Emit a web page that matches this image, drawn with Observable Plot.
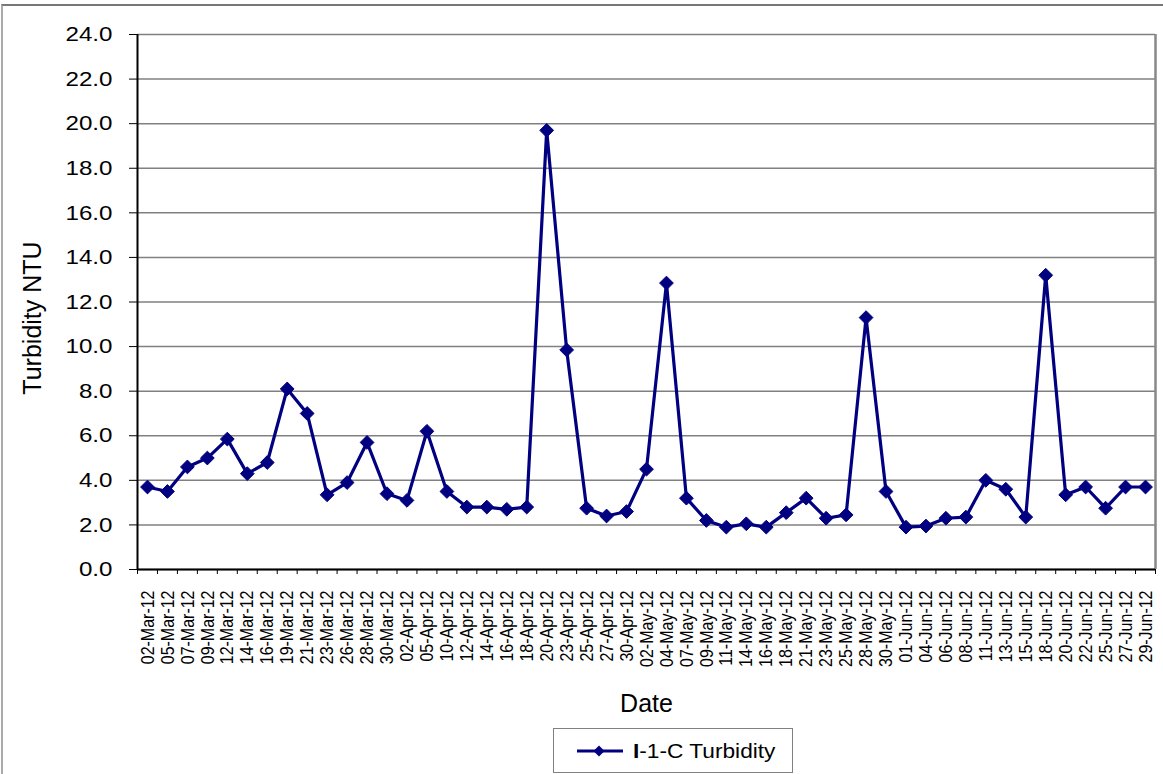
<!DOCTYPE html>
<html><head><meta charset="utf-8">
<script src="https://cdn.jsdelivr.net/npm/d3@7"></script>
<script src="https://cdn.jsdelivr.net/npm/@observablehq/plot@0.6"></script>
<style>
body{margin:0;background:#fff;font-family:"Liberation Sans",Arial,sans-serif;}
#wrap{position:relative;width:1163px;height:774px;overflow:hidden;background:#fff;}
#border{position:absolute;left:1px;top:4px;width:1200px;height:800px;border-top:2px solid #777;border-left:2px solid #aaa;}
#chart{position:absolute;left:0;top:0;}
#legend{position:absolute;left:553px;top:728px;width:238px;height:43px;border:1px solid #808080;background:#fff;display:flex;align-items:center;font-size:21px;color:#000;}
#legend svg{margin-left:21px;margin-right:8px;}
#legend span{display:inline-block;transform:scaleX(1.08);transform-origin:left center;}
</style></head><body>
<div id="wrap"><div id="border"></div><div id="chart"></div>
<div id="legend"><svg width="50" height="20"><line x1="2" y1="10" x2="48" y2="10" stroke="#000080" stroke-width="3"></line><polygon points="24,4.5 29.5,10 24,15.5 18.5,10" fill="#000080"></polygon></svg><span><b>I</b>-1-C Turbidity</span></div>
</div>
<script>
const dates = ["02-Mar-12","05-Mar-12","07-Mar-12","09-Mar-12","12-Mar-12","14-Mar-12","16-Mar-12","19-Mar-12","21-Mar-12","23-Mar-12","26-Mar-12","28-Mar-12","30-Mar-12","02-Apr-12","05-Apr-12","10-Apr-12","12-Apr-12","14-Apr-12","16-Apr-12","18-Apr-12","20-Apr-12","23-Apr-12","25-Apr-12","27-Apr-12","30-Apr-12","02-May-12","04-May-12","07-May-12","09-May-12","11-May-12","14-May-12","16-May-12","18-May-12","21-May-12","23-May-12","25-May-12","28-May-12","30-May-12","01-Jun-12","04-Jun-12","06-Jun-12","08-Jun-12","11-Jun-12","13-Jun-12","15-Jun-12","18-Jun-12","20-Jun-12","22-Jun-12","25-Jun-12","27-Jun-12","29-Jun-12"];
const turbidity = [3.7,3.5,4.6,5.0,5.85,4.3,4.8,8.1,7.0,3.35,3.9,5.7,3.4,3.1,6.2,3.5,2.8,2.8,2.7,2.8,19.7,9.85,2.75,2.4,2.6,4.5,12.85,3.2,2.2,1.9,2.05,1.9,2.55,3.2,2.3,2.45,11.3,3.5,1.9,1.95,2.3,2.35,4.0,3.6,2.35,13.2,3.35,3.7,2.75,3.7,3.7];
const yTicks = [0,2,4,6,8,10,12,14,16,18,20,22,24];
const seriesName = "I-1-C Turbidity";

const data = dates.map((d, i) => ({i, date: d, value: turbidity[i]}));
const idx = dates.map((d, i) => i);
const edges = [-0.5, ...idx.map(i => i + 0.5)];
const navy = "#000080";

const chart = Plot.plot({
  width: 1163, height: 725,
  marginLeft: 137, marginRight: 8, marginTop: 34, marginBottom: 156,
  style: {fontFamily: "'Liberation Sans', Arial, sans-serif", background: "transparent", color: "#000"},
  x: {domain: [-0.5, dates.length - 0.5]},
  y: {domain: [0, 24]},
  marks: [
    Plot.ruleY(yTicks, {stroke: "#808080", strokeWidth: 1.5}),
    Plot.ruleX([dates.length - 0.5], {stroke: "#888", strokeWidth: 2.5}),
    Plot.axisY({ticks: yTicks, tickFormat: d => d.toFixed(1), tickSize: 8, tickPadding: 17, fontSize: 21,
      label: "Turbidity NTU", labelAnchor: "center", labelOffset: 114, labelArrow: "none"}),
    Plot.axisX({ticks: edges, tickFormat: () => "", tickSize: 5, label: null}),
    Plot.axisX({ticks: idx, tickFormat: i => dates[i], tickSize: 0, tickRotate: -90, tickPadding: 21, fontSize: 16,
      label: "Date", labelAnchor: "center", labelOffset: 142, labelArrow: "none"}),
    Plot.ruleX([-0.5], {stroke: "#000", strokeWidth: 2}),
    Plot.ruleY([0], {stroke: "#000", strokeWidth: 2}),
    Plot.lineY(data, {x: "i", y: "value", stroke: navy, strokeWidth: 3.2}),
    Plot.dot(data, {x: "i", y: "value", symbol: "diamond2", r: 6.2, fill: navy, stroke: navy, strokeWidth: 1})
  ]
});
document.getElementById("chart").appendChild(chart);
const svg = d3.select(chart);
svg.selectAll("g[aria-label='y-axis label'] text, g[aria-label='x-axis label'] text").attr("font-size", 25);
// the reference's text is slightly wider than the font's natural proportions
svg.selectAll("g[aria-label='y-axis tick label'] text").attr("transform", function() {
  return (this.getAttribute("transform") || "") + " scale(1.15,1)";
});
svg.selectAll("g[aria-label='x-axis tick label'] text").attr("transform", function() {
  return (this.getAttribute("transform") || "") + " scale(1,1.2)";
});
svg.selectAll("g[aria-label='y-axis label'] text").attr("dx", -16);
</script>
</body></html>
